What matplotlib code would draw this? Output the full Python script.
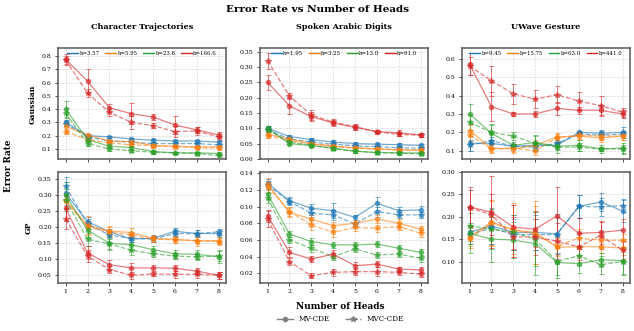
import matplotlib
matplotlib.use("Agg")
import matplotlib.pyplot as plt
from matplotlib.lines import Line2D
import numpy as np

plt.rcParams['font.family'] = ['DejaVu Serif']

HEADS = [1, 2, 3, 4, 5, 6, 7, 8]
COLORS = ['tab:blue', 'tab:orange', 'tab:green', 'tab:red']
DATASETS = ['Character Trajectories', 'Spoken Arabic Digits', 'UWave Gesture']
KERNELS = ['Gaussian', 'GP']
CT_H = ['h=3.57', 'h=5.95', 'h=23.8', 'h=166.6']
SAD_H = ['h=1.95', 'h=3.25', 'h=13.0', 'h=91.0']
UW_H = ['h=9.45', 'h=15.75', 'h=63.0', 'h=441.0']

# rows: blue, orange, green, red
CT_GAUSS_MV = [[0.300, 0.200, 0.190, 0.175, 0.165, 0.160, 0.160, 0.150],
               [0.270, 0.205, 0.160, 0.155, 0.125, 0.120, 0.115, 0.115],
               [0.400, 0.170, 0.120, 0.110, 0.080, 0.070, 0.070, 0.065],
               [0.775, 0.610, 0.410, 0.365, 0.340, 0.280, 0.243, 0.205]]
CT_GAUSS_MVC = [[0.290, 0.190, 0.160, 0.150, 0.140, 0.140, 0.140, 0.130],
                [0.230, 0.170, 0.145, 0.130, 0.125, 0.115, 0.110, 0.105],
                [0.370, 0.140, 0.100, 0.085, 0.075, 0.070, 0.065, 0.050],
                [0.770, 0.520, 0.375, 0.300, 0.275, 0.230, 0.235, 0.190]]
CT_GAUSS_MV_ERR = [[0.02, 0.01, 0.01, 0.01, 0.01, 0.01, 0.01, 0.01],
                   [0.03, 0.01, 0.01, 0.01, 0.01, 0.01, 0.01, 0.01],
                   [0.06, 0.02, 0.015, 0.015, 0.01, 0.01, 0.01, 0.01],
                   [0.04, 0.09, 0.03, 0.08, 0.02, 0.07, 0.02, 0.02]]
CT_GAUSS_MVC_ERR = [[0.02, 0.01, 0.01, 0.01, 0.01, 0.01, 0.01, 0.01],
                    [0.02, 0.01, 0.01, 0.01, 0.01, 0.01, 0.01, 0.01],
                    [0.04, 0.02, 0.015, 0.01, 0.01, 0.01, 0.01, 0.01],
                    [0.03, 0.03, 0.03, 0.05, 0.02, 0.04, 0.03, 0.02]]

SAD_GAUSS_MV = [[0.100, 0.073, 0.063, 0.055, 0.050, 0.048, 0.046, 0.044],
                [0.080, 0.065, 0.050, 0.042, 0.036, 0.032, 0.029, 0.029],
                [0.100, 0.050, 0.043, 0.035, 0.025, 0.021, 0.020, 0.019],
                [0.250, 0.173, 0.138, 0.117, 0.103, 0.089, 0.085, 0.078]]
SAD_GAUSS_MVC = [[0.095, 0.065, 0.055, 0.048, 0.042, 0.040, 0.036, 0.035],
                 [0.075, 0.060, 0.048, 0.040, 0.035, 0.033, 0.030, 0.028],
                 [0.095, 0.055, 0.045, 0.033, 0.025, 0.020, 0.018, 0.017],
                 [0.320, 0.205, 0.143, 0.120, 0.105, 0.088, 0.080, 0.077]]
SAD_GAUSS_MV_ERR = [[0.006, 0.005, 0.005, 0.005, 0.005, 0.005, 0.005, 0.005],
                    [0.006, 0.005, 0.005, 0.005, 0.005, 0.005, 0.005, 0.005],
                    [0.008, 0.005, 0.005, 0.005, 0.005, 0.005, 0.005, 0.005],
                    [0.025, 0.025, 0.015, 0.010, 0.008, 0.005, 0.010, 0.006]]
SAD_GAUSS_MVC_ERR = [[0.006, 0.005, 0.005, 0.005, 0.005, 0.005, 0.005, 0.005],
                     [0.006, 0.005, 0.005, 0.005, 0.005, 0.005, 0.005, 0.005],
                     [0.008, 0.005, 0.005, 0.005, 0.005, 0.005, 0.005, 0.005],
                     [0.025, 0.010, 0.015, 0.010, 0.010, 0.005, 0.005, 0.005]]

UW_GAUSS_MV = [[0.140, 0.140, 0.125, 0.130, 0.130, 0.200, 0.195, 0.200],
               [0.210, 0.115, 0.110, 0.130, 0.175, 0.180, 0.170, 0.180],
               [0.300, 0.195, 0.130, 0.145, 0.125, 0.130, 0.110, 0.115],
               [0.570, 0.340, 0.300, 0.300, 0.330, 0.320, 0.320, 0.300]]
UW_GAUSS_MVC = [[0.130, 0.155, 0.125, 0.120, 0.140, 0.190, 0.185, 0.190],
                [0.185, 0.110, 0.115, 0.100, 0.170, 0.185, 0.180, 0.180],
                [0.255, 0.200, 0.180, 0.140, 0.120, 0.120, 0.110, 0.110],
                [0.560, 0.480, 0.410, 0.380, 0.405, 0.370, 0.345, 0.310]]
UW_GAUSS_MV_ERR = [[0.04, 0.02, 0.01, 0.02, 0.02, 0.01, 0.02, 0.03],
                   [0.03, 0.02, 0.02, 0.03, 0.02, 0.02, 0.02, 0.02],
                   [0.055, 0.05, 0.02, 0.04, 0.02, 0.03, 0.02, 0.03],
                   [0.06, 0.08, 0.01, 0.015, 0.035, 0.02, 0.03, 0.02]]
UW_GAUSS_MVC_ERR = [[0.03, 0.02, 0.01, 0.02, 0.02, 0.01, 0.02, 0.02],
                    [0.03, 0.02, 0.02, 0.02, 0.02, 0.02, 0.02, 0.02],
                    [0.04, 0.04, 0.02, 0.04, 0.03, 0.02, 0.01, 0.02],
                    [0.05, 0.08, 0.055, 0.05, 0.045, 0.05, 0.05, 0.025]]

CT_GP_MV = [[0.305, 0.217, 0.185, 0.163, 0.165, 0.187, 0.180, 0.180],
            [0.285, 0.205, 0.188, 0.183, 0.165, 0.162, 0.157, 0.158],
            [0.300, 0.190, 0.150, 0.145, 0.130, 0.117, 0.115, 0.108],
            [0.258, 0.120, 0.083, 0.073, 0.073, 0.072, 0.063, 0.050]]
CT_GP_MVC = [[0.327, 0.210, 0.175, 0.165, 0.163, 0.180, 0.180, 0.185],
             [0.280, 0.200, 0.185, 0.175, 0.163, 0.160, 0.158, 0.155],
             [0.285, 0.162, 0.148, 0.128, 0.117, 0.110, 0.107, 0.110],
             [0.225, 0.110, 0.068, 0.050, 0.054, 0.053, 0.053, 0.050]]
CT_GP_MV_ERR = [[0.035, 0.015, 0.01, 0.01, 0.01, 0.01, 0.01, 0.012],
                [0.02, 0.03, 0.015, 0.015, 0.01, 0.01, 0.015, 0.012],
                [0.04, 0.02, 0.02, 0.015, 0.01, 0.012, 0.015, 0.02],
                [0.04, 0.02, 0.015, 0.015, 0.01, 0.01, 0.01, 0.01]]
CT_GP_MVC_ERR = [[0.03, 0.015, 0.01, 0.01, 0.01, 0.01, 0.01, 0.01],
                 [0.02, 0.02, 0.015, 0.01, 0.01, 0.01, 0.01, 0.01],
                 [0.035, 0.02, 0.015, 0.015, 0.01, 0.01, 0.01, 0.015],
                 [0.03, 0.02, 0.01, 0.01, 0.005, 0.01, 0.01, 0.01]]

SAD_GP_MV = [[0.128, 0.107, 0.098, 0.095, 0.087, 0.104, 0.095, 0.096],
             [0.127, 0.093, 0.085, 0.077, 0.080, 0.085, 0.080, 0.073],
             [0.115, 0.067, 0.058, 0.054, 0.054, 0.055, 0.050, 0.045],
             [0.089, 0.045, 0.037, 0.043, 0.029, 0.031, 0.025, 0.024]]
SAD_GP_MVC = [[0.126, 0.106, 0.092, 0.090, 0.079, 0.094, 0.090, 0.090],
              [0.124, 0.094, 0.078, 0.069, 0.075, 0.074, 0.076, 0.068],
              [0.110, 0.060, 0.050, 0.040, 0.049, 0.042, 0.043, 0.038],
              [0.085, 0.034, 0.017, 0.021, 0.022, 0.022, 0.021, 0.019]]
SAD_GP_MV_ERR = [[0.005, 0.004, 0.005, 0.009, 0.003, 0.008, 0.005, 0.005],
                 [0.007, 0.005, 0.005, 0.005, 0.004, 0.005, 0.005, 0.004],
                 [0.006, 0.004, 0.004, 0.004, 0.004, 0.004, 0.004, 0.004],
                 [0.007, 0.006, 0.004, 0.005, 0.004, 0.004, 0.003, 0.004]]
SAD_GP_MVC_ERR = [[0.005, 0.004, 0.005, 0.006, 0.003, 0.006, 0.004, 0.004],
                  [0.006, 0.005, 0.006, 0.005, 0.004, 0.004, 0.004, 0.004],
                  [0.006, 0.004, 0.004, 0.004, 0.004, 0.004, 0.004, 0.004],
                  [0.010, 0.004, 0.003, 0.004, 0.004, 0.005, 0.003, 0.003]]

UW_GP_MV = [[0.165, 0.180, 0.165, 0.165, 0.162, 0.223, 0.233, 0.213],
            [0.155, 0.188, 0.170, 0.165, 0.132, 0.133, 0.133, 0.130],
            [0.163, 0.150, 0.148, 0.140, 0.098, 0.095, 0.104, 0.102],
            [0.222, 0.210, 0.177, 0.172, 0.202, 0.163, 0.165, 0.170]]
UW_GP_MVC = [[0.160, 0.175, 0.160, 0.160, 0.160, 0.223, 0.222, 0.225],
             [0.150, 0.185, 0.172, 0.160, 0.135, 0.152, 0.148, 0.147],
             [0.180, 0.172, 0.165, 0.150, 0.100, 0.113, 0.093, 0.100],
             [0.220, 0.205, 0.155, 0.155, 0.145, 0.133, 0.158, 0.125]]
UW_GP_MV_ERR = [[0.02, 0.04, 0.04, 0.04, 0.045, 0.025, 0.02, 0.025],
                [0.02, 0.05, 0.06, 0.07, 0.02, 0.02, 0.015, 0.015],
                [0.045, 0.05, 0.04, 0.07, 0.035, 0.02, 0.015, 0.03],
                [0.045, 0.08, 0.05, 0.04, 0.065, 0.035, 0.025, 0.025]]
UW_GP_MVC_ERR = [[0.02, 0.035, 0.035, 0.035, 0.04, 0.025, 0.02, 0.015],
                 [0.02, 0.05, 0.055, 0.065, 0.02, 0.02, 0.015, 0.015],
                 [0.04, 0.045, 0.04, 0.06, 0.03, 0.02, 0.02, 0.03],
                 [0.04, 0.045, 0.045, 0.04, 0.04, 0.03, 0.03, 0.02]]

YLIMS = [[(0.02, 0.86), (-0.002, 0.362), (0.053, 0.658)],
         [(0.026, 0.373), (0.0083, 0.142), (0.052, 0.301)]]
YTICKS = [[np.arange(0.1, 0.81, 0.1), np.arange(0.0, 0.351, 0.05), np.arange(0.1, 0.61, 0.1)],
          [np.arange(0.05, 0.351, 0.05), np.arange(0.02, 0.141, 0.02), np.arange(0.10, 0.301, 0.05)]]
YFMT = [['%.1f', '%.2f', '%.1f'], ['%.2f', '%.2f', '%.2f']]

panels = [[(CT_GAUSS_MV, CT_GAUSS_MVC, CT_GAUSS_MV_ERR, CT_GAUSS_MVC_ERR),
           (SAD_GAUSS_MV, SAD_GAUSS_MVC, SAD_GAUSS_MV_ERR, SAD_GAUSS_MVC_ERR),
           (UW_GAUSS_MV, UW_GAUSS_MVC, UW_GAUSS_MV_ERR, UW_GAUSS_MVC_ERR)],
          [(CT_GP_MV, CT_GP_MVC, CT_GP_MV_ERR, CT_GP_MVC_ERR),
           (SAD_GP_MV, SAD_GP_MVC, SAD_GP_MV_ERR, SAD_GP_MVC_ERR),
           (UW_GP_MV, UW_GP_MVC, UW_GP_MV_ERR, UW_GP_MVC_ERR)]]
hlabels = [CT_H, SAD_H, UW_H]

fig, axes = plt.subplots(2, 3, figsize=(6.34, 3.31), dpi=100)
fig.subplots_adjust(left=0.0915, right=0.994, top=0.855, bottom=0.145, wspace=0.2, hspace=0.108)

for r in range(2):
  for c in range(3):
    ax = axes[r, c]
    mv, mvc, mv_err, mvc_err = panels[r][c]
    for k in range(4):
      ax.errorbar(HEADS, mv[k], yerr=mv_err[k], color=COLORS[k], ls='-', marker='o',
                  ms=3, lw=0.9, elinewidth=0.7, capsize=1.8, capthick=0.7, alpha=0.6)
      ax.errorbar(HEADS, mvc[k], yerr=mvc_err[k], color=COLORS[k], ls='--', marker='*',
                  ms=3.8, lw=0.9, elinewidth=0.7, capsize=1.8, capthick=0.7, alpha=0.6)
    ax.set_ylim(*YLIMS[r][c])
    ax.set_yticks(YTICKS[r][c])
    ax.set_yticklabels([YFMT[r][c] % v for v in YTICKS[r][c]])
    ax.set_xticks(HEADS)
    ax.grid(True, ls='--', lw=0.5, color='0.85')
    ax.set_axisbelow(True)
    ax.tick_params(labelsize=4.4, length=2.5, width=0.7, color='0.3', pad=2)
    for s in ax.spines.values():
      s.set_color('0.35')
      s.set_linewidth(1.1)
    if r == 0:
      ax.set_xticklabels([])
      ax.set_title(DATASETS[c], fontsize=5.9, fontweight='bold', pad=14)
      handles = [Line2D([], [], color=COLORS[k], lw=1.0) for k in range(4)]
      ax.legend(handles, hlabels[c], loc='upper center', ncol=4, fontsize=3.9,
                frameon=False, handlelength=2.0, columnspacing=1.0, handletextpad=0.3,
                borderaxespad=0.2)

fig.text(0.051, 0.686, 'Gaussian', rotation=90, ha='center', va='center', fontsize=5.5, fontweight='bold')
fig.text(0.045, 0.312, 'GP', rotation=90, ha='center', va='center', fontsize=5.5, fontweight='bold')
fig.text(0.013, 0.5, 'Error Rate', rotation=90, ha='center', va='center', fontsize=6.3, fontweight='bold')
fig.text(0.5, 0.972, 'Error Rate vs Number of Heads', ha='center', va='center', fontsize=7.5, fontweight='bold')
fig.text(0.537, 0.073, 'Number of Heads', ha='center', va='center', fontsize=6.5, fontweight='bold')

leg_handles = [Line2D([], [], color='gray', ls='-', marker='o', ms=3, lw=1.0),
               Line2D([], [], color='gray', ls='--', marker='*', ms=3.8, lw=1.0)]
fig.legend(leg_handles, ['MV-CDE', 'MVC-CDE'], loc='center', bbox_to_anchor=(0.537, 0.036),
           ncol=2, fontsize=5.2, frameon=False, handlelength=2.2, columnspacing=2.0)

fig.savefig('out.png', dpi=100)
